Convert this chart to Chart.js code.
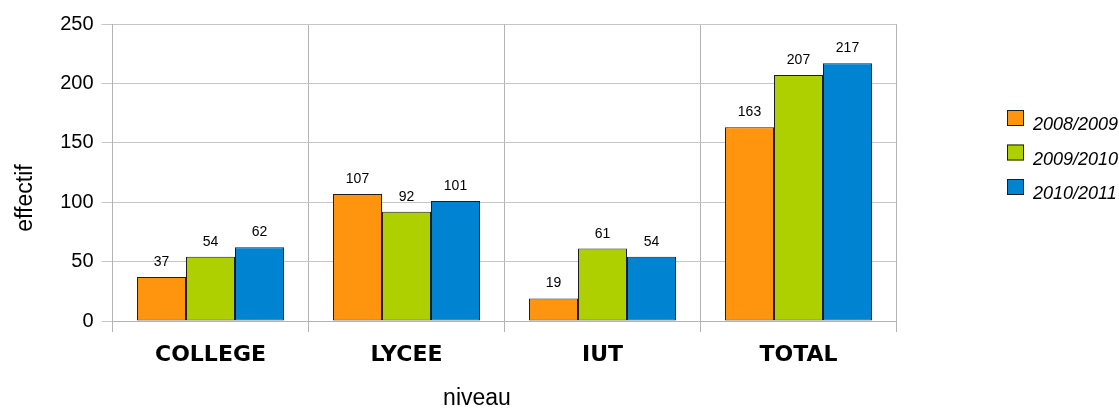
<!DOCTYPE html>
<html>
<head>
<meta charset="utf-8">
<script src="https://cdn.jsdelivr.net/npm/chart.js@4/dist/chart.umd.min.js"></script>
<style>
  body { margin: 0; background: #fff; }
</style>
</head>
<body>
<canvas id="myChart" width="1119" height="408"></canvas>
<script>
const niveaux = ['COLLEGE', 'LYCEE', 'IUT', 'TOTAL'];
const annees = ['2008/2009', '2009/2010', '2010/2011'];
const effectif_0809 = [37, 107, 19, 163];
const effectif_0910 = [54, 92, 61, 207];
const effectif_1011 = [62, 101, 54, 217];
const yTicks = [0, 50, 100, 150, 200, 250];

const couleurs = ['#ff950e', '#aecf00', '#0084d1'];
const bordure = '#1e1e1e';

// values above the bars
const valueLabels = {
  id: 'valueLabels',
  afterDatasetsDraw(chart) {
    const ctx = chart.ctx;
    ctx.save();
    ctx.font = '14px "Liberation Sans", Arial, sans-serif';
    ctx.fillStyle = '#000';
    ctx.textAlign = 'center';
    ctx.textBaseline = 'alphabetic';
    chart.data.datasets.forEach(function (ds, i) {
      chart.getDatasetMeta(i).data.forEach(function (bar, j) {
        ctx.fillText(ds.data[j], bar.x, bar.y - 11);
      });
    });
    ctx.restore();
  }
};

// axis titles, placed like the original (not centred on the plot area)
const axisTitles = {
  id: 'axisTitles',
  afterDraw(chart) {
    const ctx = chart.ctx;
    ctx.save();
    ctx.font = '23px "Liberation Sans", Arial, sans-serif';
    ctx.fillStyle = '#000';
    ctx.textAlign = 'center';
    ctx.textBaseline = 'alphabetic';
    ctx.fillText('niveau', 477, chart.height - 3);
    ctx.translate(32, 198);
    ctx.rotate(-Math.PI / 2);
    ctx.fillText('effectif', 0, 0);
    ctx.restore();
  }
};

// legend on the right, like the original
const sideLegend = {
  id: 'sideLegend',
  afterDraw(chart) {
    const ctx = chart.ctx;
    const x = 1007;
    let y = chart.chartArea.top + 86;
    ctx.save();
    ctx.font = 'italic 18px "Liberation Sans", Arial, sans-serif';
    ctx.textBaseline = 'middle';
    ctx.textAlign = 'left';
    chart.data.datasets.forEach(function (ds) {
      ctx.fillStyle = ds.backgroundColor;
      ctx.fillRect(x, y, 17, 16);
      ctx.strokeStyle = bordure;
      ctx.lineWidth = 1;
      ctx.strokeRect(x + 0.5, y + 0.5, 16, 15);
      ctx.fillStyle = '#000';
      ctx.fillText(ds.label, x + 26, y + 15);
      y += 34.5;
    });
    ctx.restore();
  }
};

Chart.defaults.font.family = '"Liberation Sans", Arial, sans-serif';
Chart.defaults.color = '#000';

const ctx = document.getElementById('myChart').getContext('2d');
const myChart = new Chart(ctx, {
  type: 'bar',
  data: {
    labels: niveaux,
    datasets: [
      { label: annees[0], data: effectif_0809, backgroundColor: couleurs[0], borderColor: bordure, borderWidth: 1 },
      { label: annees[1], data: effectif_0910, backgroundColor: couleurs[1], borderColor: bordure, borderWidth: 1 },
      { label: annees[2], data: effectif_1011, backgroundColor: couleurs[2], borderColor: bordure, borderWidth: 1 }
    ]
  },
  options: {
    responsive: false,
    animation: false,
    layout: { padding: { top: 24, right: 222.5, left: 0, bottom: 0 } },
    datasets: {
      bar: {
        categoryPercentage: 0.75,
        barPercentage: 1,
        borderSkipped: false,
        inflateAmount: 0
      }
    },
    plugins: {
      legend: { display: false },
      tooltip: { enabled: false }
    },
    scales: {
      x: {
        afterFit(scale) { scale.height = 87; },
        grid: { color: '#b3b3b3', tickLength: 11, offset: true },
        border: { color: '#b3b3b3' },
        ticks: {
          padding: 10,
          font: { family: '"DejaVu Sans", sans-serif', size: 22, weight: 'bold' }
        }
      },
      y: {
        min: 0,
        max: 250,
        afterFit(scale) { scale.width = 112.5; },
        afterBuildTicks(scale) { scale.ticks = yTicks.map(v => ({ value: v })); },
        grid: { color: '#c6c6c6', tickLength: 11 },
        border: { color: '#b3b3b3' },
        ticks: { padding: 8, font: { size: 20 } }
      }
    }
  },
  plugins: [valueLabels, axisTitles, sideLegend]
});
</script>
</body>
</html>
